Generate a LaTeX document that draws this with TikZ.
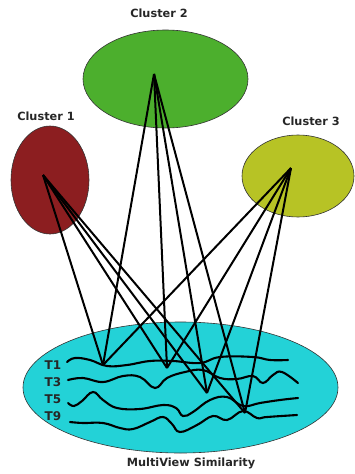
\documentclass[tikz,border=0pt]{standalone}
\usepackage{fontspec}
\setmainfont{DejaVu Sans}
\begin{document}
\begin{tikzpicture}[x=1pt,y=-1pt,
  cl/.style={draw=black!80, line width=0.6pt},
  lbl/.style={font=\bfseries\fontsize{11.3}{13}\selectfont, text=black!85, inner sep=0pt},
  tl/.style={lbl, font=\bfseries\fontsize{12}{13}\selectfont},
  conn/.style={line width=2pt, black},
  wave/.style={line width=2.1pt, black, line cap=round}]
\definecolor{cOne}{RGB}{140,30,32}
\definecolor{cTwo}{RGB}{76,175,45}
\definecolor{cThree}{RGB}{183,195,37}
\definecolor{cBot}{RGB}{35,210,215}
\useasboundingbox (0,0) rectangle (354,474);
% ellipses
\draw[cl, fill=cTwo] (165.5,79) ellipse [x radius=82.5, y radius=49];
\draw[cl, fill=cOne] (50,180) ellipse [x radius=39, y radius=54];
\draw[cl, fill=cThree] (298,176) ellipse [x radius=56, y radius=41];
\draw[cl, fill=cBot] (180.5,387.5) ellipse [x radius=157.5, y radius=65.5];
% labels
\node[lbl] (l2) at (159,13) {Cluster 2};
\node[lbl] (l1) at (46,116) {Cluster 1};
\node[lbl] (l3) at (311,121) {Cluster 3};
\node[lbl] (lm) at (191,463) {MultiView Similarity};
\node[tl] (t1) at (53,365) {T1};
\node[tl] (t3) at (53,382) {T3};
\node[tl] (t5) at (53,399) {T5};
\node[tl] (t9) at (53,416) {T9};
% waves
\draw[wave] plot[smooth, tension=0.7] coordinates {(67,362) (75,358) (90,360) (107,366) (127,365) (150,361) (173,361) (200,363) (220,357) (253,357) (270,360) (288,360)};
\draw[wave] plot[smooth, tension=0.7] coordinates {(68,380) (83,378) (103,382) (123,376) (140,377) (155,388) (167,378) (185,372) (203,370) (220,378) (237,379) (253,376) (263,383) (273,375) (282,372) (298,383)};
\draw[wave] plot[smooth, tension=0.7] coordinates {(68,403) (74,406) (82,401) (93,392) (103,400) (117,408) (140,409) (163,405) (176,408) (183,416) (193,412) (210,400) (227,397) (243,406) (260,403) (280,400) (298,398)};
\draw[wave] plot[smooth, tension=0.7] coordinates {(70,422) (83,423) (103,423) (120,428) (133,429) (150,422) (163,417) (172,424) (180,432) (197,425) (213,416) (227,420) (243,411) (257,418) (267,417) (297,415)};
% hubs and endpoints
\coordinate (h1) at (43,175);
\coordinate (h2) at (154,74);
\coordinate (h3) at (291,168);
\coordinate (a) at (103,365);
\coordinate (b) at (167,368);
\coordinate (c) at (207,393);
\coordinate (d) at (245,413);
\foreach \h in {h1,h2,h3}{
  \foreach \e in {a,b,c,d}{
    \draw[conn] (\h) -- (\e);
  }
}
\end{tikzpicture}
\end{document}
